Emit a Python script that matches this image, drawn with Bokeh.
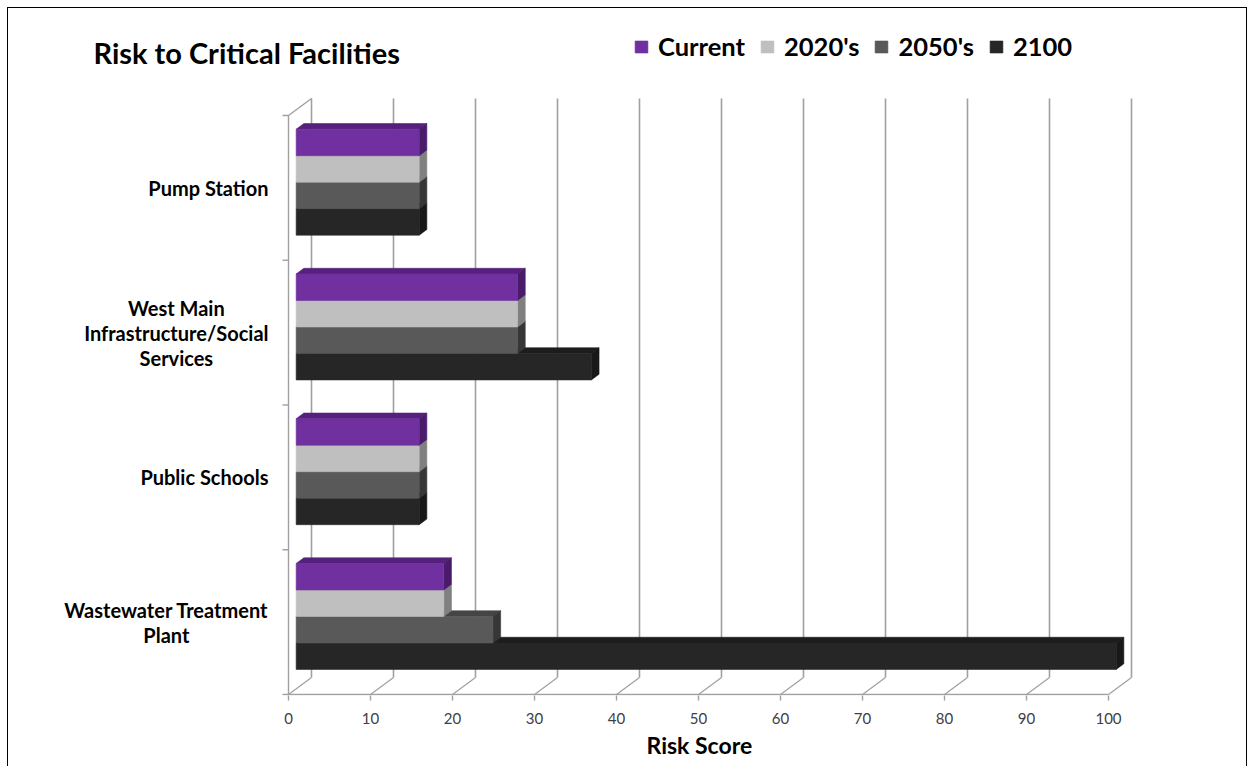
from bokeh.plotting import figure
from bokeh.models import Range1d, FixedTicker, Legend, LegendItem, Label, Title, ColumnDataSource
from bokeh.core.properties import value
from bokeh.embed import file_html
from bokeh.resources import INLINE

# ---------------- data ----------------
categories = ["Pump Station",
              "West Main\nInfrastructure/Social\nServices",
              "Public Schools",
              "Wastewater Treatment\nPlant"]
series_names = ["Current", "2020's", "2050's", "2100"]
current = [15, 27, 15, 18]
s2020 = [15, 27, 15, 18]
s2050 = [15, 27, 15, 24]
s2100 = [15, 36, 15, 100]
x_ticks = [0, 10, 20, 30, 40, 50, 60, 70, 80, 90, 100]

series_values = [current, s2020, s2050, s2100]
front_colors = ["#7030A0", "#BFBFBF", "#595959", "#262626"]
top_colors = ["#55217C", "#A0A0A0", "#454545", "#1D1D1D"]
side_colors = ["#4A1B6B", "#808080", "#363636", "#181818"]

# ---------------- layout helpers (page pixels -> data) ----------------
W, H = 1240, 759
CANVAS_X, CANVAS_Y = 8, 8
X0_PX, SX = 288.0, 8.2       # page x of value 0, px per unit
Y0_PX, SY = 694.0, 144.75    # page y of floor, px per category band


def xd(px):
    return (px - X0_PX) / SX


def yd(py):
    return (Y0_PX - py) / SY


FRAME_BOTTOM = 695
DX = 23.0 / SX     # full depth of the 3-D box in data units
DY = 17.0 / SY

n = len(categories)
xmax = x_ticks[-1]

p = figure(width=W, height=H, output_backend="svg", toolbar_location=None,
           x_range=Range1d(xd(CANVAS_X), xd(CANVAS_X + W)),
           y_range=Range1d(yd(FRAME_BOTTOM), yd(CANVAS_Y)),
           y_axis_location=None,
           min_border_left=0, min_border_right=0, min_border_top=0,
           min_border_bottom=CANVAS_Y + H - FRAME_BOTTOM)
p.outline_line_color = None
p.grid.visible = False
p.background_fill_color = "white"
p.border_fill_color = "white"
p.styles = {"margin-left": "7px", "margin-top": "7px",
            "border-left": "1px solid #000000", "border-top": "1px solid #000000",
            "border-right": "1px solid #000000"}

GRID = "#A0A0A0"
# back wall gridlines
p.segment(x0=[t + DX for t in x_ticks], y0=[DY] * len(x_ticks),
          x1=[t + DX for t in x_ticks], y1=[n + DY] * len(x_ticks),
          line_color=GRID, line_width=1.6)
# floor diagonals
p.segment(x0=x_ticks, y0=[0] * len(x_ticks),
          x1=[t + DX for t in x_ticks], y1=[DY] * len(x_ticks),
          line_color=GRID, line_width=1.2)
# floor front edge + left wall front edge + top-left diagonal
p.segment(x0=[0, 0, 0], y0=[0, 0, n], x1=[xmax, 0, DX], y1=[0, n, n + DY],
          line_color=GRID, line_width=1.4)
# category boundary ticks on the left
bounds = list(range(n + 1))
p.segment(x0=[xd(282)] * len(bounds), y0=bounds, x1=[0] * len(bounds), y1=bounds,
          line_color=GRID, line_width=1.4)

# ---------------- 3-D bars ----------------
GROUP_HALF = 0.366
BAR_H = 2 * GROUP_HALF / len(series_names)
f1x, f1y, f2x, f2y = DX / 3, DY / 3, 2 * DX / 3, 2 * DY / 3

front_renderers = {}
for s in reversed(range(len(series_names))):
    vals = series_values[s]
    tops, bots = [], []
    for i in range(n):
        c = n - 1 - i
        t = c + 0.5 + GROUP_HALF - s * BAR_H
        tops.append(t)
        bots.append(t - BAR_H)
    top_xs = [[f1x, v + f1x, v + f2x, f2x] for v in vals]
    top_ys = [[t + f1y, t + f1y, t + f2y, t + f2y] for t in tops]
    side_xs = [[v + f1x, v + f2x, v + f2x, v + f1x] for v in vals]
    side_ys = [[b + f1y, b + f2y, t + f2y, t + f1y] for b, t in zip(bots, tops)]
    p.patches(xs=top_xs, ys=top_ys, fill_color=top_colors[s],
              line_color=top_colors[s], line_width=0.6)
    p.patches(xs=side_xs, ys=side_ys, fill_color=side_colors[s],
              line_color=side_colors[s], line_width=0.6)
    src = ColumnDataSource(dict(left=[f1x] * n, right=[v + f1x for v in vals],
                                bottom=[b + f1y for b in bots],
                                top=[t + f1y for t in tops]))
    r = p.quad(left="left", right="right", bottom="bottom", top="top", source=src,
               fill_color=front_colors[s], line_color=front_colors[s], line_width=0.6)
    front_renderers[s] = r

# ---------------- category labels ----------------
LAB_FS = 20
lab_src = ColumnDataSource(dict(x=[xd(268)] * n,
                                y=[n - 1 - i + 0.5 for i in range(n)],
                                text=categories))
p.text(x="x", y="y", text="text", source=lab_src,
       anchor=value("center_right"), text_align="center", text_baseline="middle",
       text_font=value("Lato"), text_font_style="bold", text_font_size=f"{LAB_FS}px",
       text_line_height=25 / (1.2 * LAB_FS), text_color="#000000")

# ---------------- title ----------------
p.add_layout(Label(x=xd(93), y=yd(52), text="Risk to Critical Facilities",
                   text_font="Lato", text_font_style="bold", text_font_size="29px",
                   text_baseline="alphabetic", text_color="#000000"))

# ---------------- legend ----------------
legend = Legend(items=[LegendItem(label=series_names[s], renderers=[front_renderers[s]])
                       for s in range(len(series_names))],
                orientation="horizontal", location=(633 - CANVAS_X, FRAME_BOTTOM - 61),
                label_text_font="Lato", label_text_font_style="bold",
                label_text_font_size="25.5px", label_text_color="#000000",
                glyph_width=16, glyph_height=15, label_standoff=9, spacing=14,
                padding=0, margin=0, border_line_color=None,
                background_fill_alpha=0)
p.add_layout(legend)

# ---------------- x axis ----------------
ax = p.xaxis[0]
ax.ticker = FixedTicker(ticks=x_ticks)
ax.bounds = (x_ticks[0], x_ticks[-1])
ax.axis_line_color = None
ax.major_tick_line_color = GRID
ax.major_tick_line_width = 1.4
ax.major_tick_in = 0
ax.major_tick_out = 5
ax.minor_tick_line_color = None
ax.major_label_text_font = "Lato"
ax.major_label_text_font_size = "15px"
ax.major_label_text_color = "#404040"
ax.major_label_standoff = 12

# axis title, placed under the middle of the 0-100 scale
p.add_layout(Title(text="Risk Score", align="left", offset=646 - CANVAS_X,
                   text_font="Lato", text_font_style="bold", text_font_size="23px",
                   text_color="#000000", standoff=4), "below")

open("out.html", "w").write(file_html(p, INLINE))
